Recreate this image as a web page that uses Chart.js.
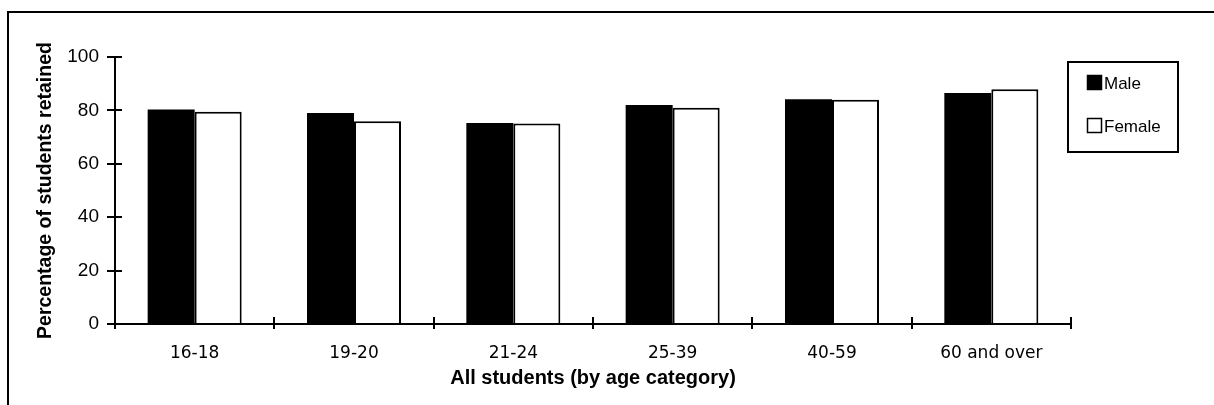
<!DOCTYPE html>
<html>
<head>
<meta charset="utf-8">
<script src="https://cdn.jsdelivr.net/npm/chart.js@4"></script>
<style>
html,body{margin:0;padding:0;background:#fff;overflow:hidden;width:1214px;height:405px;}
#frame{position:absolute;left:7px;top:11px;width:1230px;height:420px;border:2px solid #000;box-sizing:border-box;}
#wrap{position:absolute;left:0;top:0;width:1214px;height:405px;}
</style>
</head>
<body>
<div id="frame"></div>
<div id="wrap"><canvas id="c" width="1214" height="405"></canvas></div>
<script>
const categories = ['16-18', '19-20', '21-24', '25-39', '40-59', '60 and over'];
const maleValues = [80.3, 79.0, 75.3, 82.0, 84.2, 86.5];
const femaleValues = [79.5, 75.9, 75.1, 81.0, 84.0, 87.9];
const yTicks = [0, 20, 40, 60, 80, 100];
const seriesNames = ['Male', 'Female'];

const crossTicks = {
  id: 'crossTicks',
  afterDraw(chart) {
    const ctx = chart.ctx;
    const x = chart.scales.x, y = chart.scales.y;
    ctx.save();
    ctx.strokeStyle = '#000';
    ctx.lineWidth = 2;
    yTicks.forEach(v => {
      const py = Math.round(y.getPixelForValue(v));
      ctx.beginPath(); ctx.moveTo(y.right, py); ctx.lineTo(y.right + 7, py); ctx.stroke();
    });
    for (let i = 0; i <= categories.length; i++) {
      const px = Math.round(chart.chartArea.left + (chart.chartArea.right - chart.chartArea.left) * i / categories.length);
      ctx.beginPath(); ctx.moveTo(px, x.top); ctx.lineTo(px, x.top - 7); ctx.stroke();
      ctx.beginPath(); ctx.moveTo(px, x.top); ctx.lineTo(px, x.top + 5); ctx.stroke();
    }
    // legend
    const L = 1068, T = 62, W = 110, H = 90;
    ctx.lineWidth = 2;
    ctx.strokeRect(L, T, W, H);
    ctx.font = '17px "Liberation Sans", Arial, sans-serif';
    ctx.textBaseline = 'middle';
    ctx.fillStyle = '#000';
    chart.data.datasets.forEach((ds, i) => {
      const sy = 75 + i * 43;
      ctx.fillStyle = ds.backgroundColor;
      ctx.fillRect(1087, sy, 15, 15);
      ctx.strokeStyle = '#000';
      ctx.lineWidth = 1.5;
      ctx.strokeRect(1087.5, sy + 0.5, 14, 14);
      ctx.fillStyle = '#000';
      ctx.fillText(ds.label, 1104, sy + 9);
    });
    ctx.restore();
  }
};

new Chart(document.getElementById('c'), {
  type: 'bar',
  data: {
    labels: categories,
    datasets: [
      { label: seriesNames[0], data: maleValues, backgroundColor: '#000', borderColor: '#000', borderWidth: 0 },
      { label: seriesNames[1], data: femaleValues, backgroundColor: '#fff', borderColor: '#000', borderWidth: 2, borderSkipped: 'bottom' }
    ]
  },
  options: {
    responsive: false,
    animation: false,
    devicePixelRatio: 1,
    layout: { padding: { left: 27, top: 57, right: 143, bottom: 0 } },
    plugins: { legend: { display: false }, tooltip: { enabled: false } },
    datasets: { bar: { categoryPercentage: 0.59, barPercentage: 1.0 } },
    scales: {
      x: {
        afterFit(s) { s.height = 81; },
        grid: { display: true, drawOnChartArea: false, drawTicks: false, color: '#000' },
        border: { display: true, color: '#000', width: 2 },
        ticks: { color: '#000', padding: 19, font: { family: '"DejaVu Sans", Verdana, sans-serif', size: 17 } },
        title: { display: true, text: 'All students (by age category)', color: '#000',
                 font: { family: '"Liberation Sans", Arial, sans-serif', size: 20, weight: 'bold' }, padding: { top: 0, bottom: 15 } }
      },
      y: {
        min: 0, max: 100,
        afterFit(s) { s.width = 88; },
        afterBuildTicks(s) { s.ticks = yTicks.map(v => ({ value: v })); },
        grid: { display: true, drawOnChartArea: false, drawTicks: true, tickLength: 8, color: '#000', lineWidth: 2 },
        border: { display: true, color: '#000', width: 2 },
        ticks: { color: '#000', padding: 8, font: { family: '"Liberation Sans", Arial, sans-serif', size: 19 } },
        title: { display: true, text: 'Percentage of students retained', color: '#000',
                 font: { family: '"Liberation Sans", Arial, sans-serif', size: 19.5, weight: 'bold' }, padding: { top: 7, bottom: 4 } }
      }
    }
  },
  plugins: [crossTicks]
});
</script>
</body>
</html>
